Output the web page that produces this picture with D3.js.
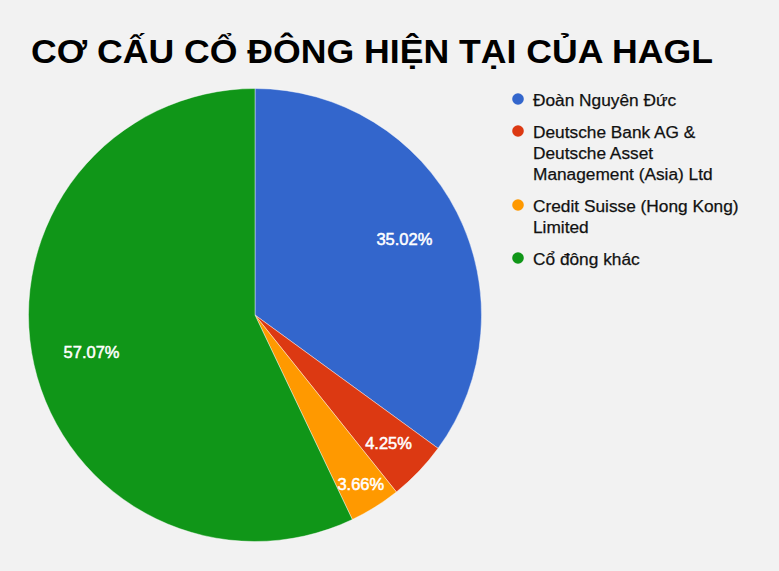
<!DOCTYPE html>
<html><head><meta charset="utf-8">
<script src="https://cdn.jsdelivr.net/npm/d3@7"></script>
<style>html,body{margin:0;padding:0;background:#f2f2f2}svg{display:block}</style>
</head><body>
<script>
const title = "CƠ CẤU CỔ ĐÔNG HIỆN TẠI CỦA HAGL";
const categories = ["Đoàn Nguyên Đức", "Deutsche Bank AG & Deutsche Asset Management (Asia) Ltd", "Credit Suisse (Hong Kong) Limited", "Cổ đông khác"];
const legendLines = [["Đoàn Nguyên Đức"], ["Deutsche Bank AG &", "Deutsche Asset", "Management (Asia) Ltd"], ["Credit Suisse (Hong Kong)", "Limited"], ["Cổ đông khác"]];
const values = [35.02, 4.25, 3.66, 57.07];
const colors = ["#3366cc", "#dc3912", "#ff9900", "#109618"];

const W = 779, H = 571;
const cx = 255, cy = 315, R = 226.5;
const font = "'Liberation Sans', Arial, sans-serif";

const svg = d3.select("body").append("svg").attr("width", W).attr("height", H);
svg.append("rect").attr("width", W).attr("height", H).attr("fill", "#f2f2f2");

svg.append("text").attr("x", 31).attr("y", 62.5)
  .attr("font-family", font).attr("font-weight", "bold").attr("font-size", 33)
  .attr("textLength", 682).attr("lengthAdjust", "spacingAndGlyphs")
  .attr("fill", "#000").text(title);

const data = categories.map((c, i) => ({ name: c, value: values[i], color: colors[i] }));
const pie = d3.pie().sort(null).value(d => d.value);
const arcs = pie(data);
const arc = d3.arc().innerRadius(0).outerRadius(R);

const g = svg.append("g").attr("transform", `translate(${cx},${cy})`);
g.selectAll("path").data(arcs).join("path")
  .attr("d", arc).attr("fill", d => d.data.color)
  .attr("stroke", "#ffffff").attr("stroke-width", 0.7).attr("stroke-opacity", 0.6);

const fmt = v => v.toFixed(2) + "%";
g.selectAll("text.lbl").data(arcs).join("text").attr("class", "lbl")
  .each(function (d) {
    const theta = d.endAngle - d.startAngle;
    const mid = (d.startAngle + d.endAngle) / 2;
    let dist = Math.max(R * 0.74, 24.6 / Math.sin(theta / 2));
    dist = Math.min(dist, R - 27);
    d3.select(this)
      .attr("x", dist * Math.sin(mid))
      .attr("y", -dist * Math.cos(mid))
      .attr("dy", "0.36em");
  })
  .attr("text-anchor", "middle")
  .attr("font-family", font).attr("font-size", 16.5)
  .attr("fill", "#ffffff").attr("stroke", "#ffffff").attr("stroke-width", 0.5)
  .text(d => fmt(d.data.value));

// legend
const lx = 518, tx = 533, lineH = 21, gap = 11;
let y = 99;
const lg = svg.append("g");
legendLines.forEach((lines, i) => {
  lg.append("circle").attr("cx", lx).attr("cy", y).attr("r", 5.8).attr("fill", colors[i]);
  const t = lg.append("text").attr("font-family", font).attr("font-size", 17.3)
    .attr("fill", "#111").attr("stroke", "#111").attr("stroke-width", 0.25);
  lines.forEach((ln, j) => {
    t.append("tspan").attr("x", tx).attr("y", y + j * lineH).attr("dy", "0.38em").text(ln);
  });
  y += lines.length * lineH + gap;
});
</script>
</body></html>
